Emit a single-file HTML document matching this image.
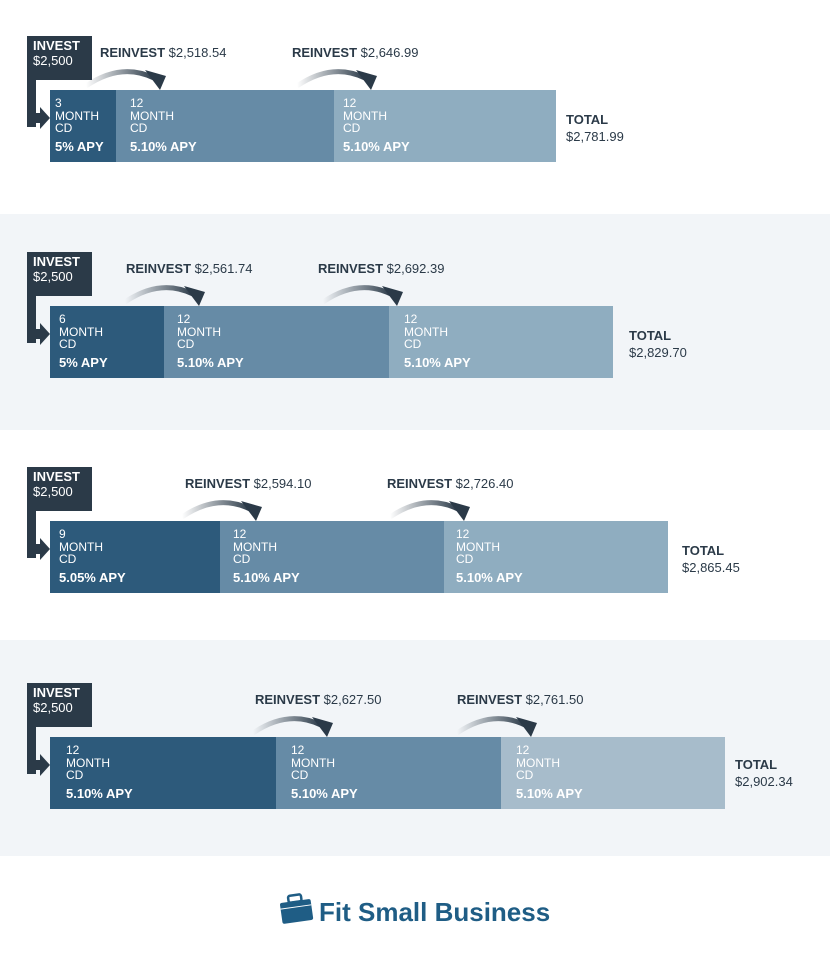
<!DOCTYPE html>
<html><head><meta charset="utf-8"><style>
body{margin:0;background:#fff}
svg{display:block}
text{font-family:"Liberation Sans",sans-serif}
.w{fill:#fff;font-size:12px}
.b{fill:#fff;font-size:13px;font-weight:bold}
.r{fill:#2b3a48;font-size:13px}
.rb{font-weight:bold}
</style></head><body>
<svg width="830" height="970" viewBox="0 0 830 970" xmlns="http://www.w3.org/2000/svg">
<defs>
<linearGradient id="g" x1="0" x2="1" y1="0" y2="0"><stop offset="0" stop-color="#2b3a48" stop-opacity="0"/><stop offset="1" stop-color="#2b3a48"/></linearGradient>
<g id="inv">
<rect x="27" y="36" width="65" height="44" fill="#2b3a48"/>
<rect x="27" y="78" width="9" height="49" fill="#2b3a48"/>
<rect x="27" y="113" width="16" height="10" fill="#2b3a48"/>
<polygon points="40,107 50,118 40,129" fill="#2b3a48"/>
</g>
<g id="arr">
<path d="M0,86 Q35,62 68,78" fill="none" stroke="url(#g)" stroke-width="5"/>
<polygon points="59,70 80,76 74,90" fill="#2b3a48"/>
</g>
</defs>
<rect x="0" y="214" width="830" height="216" fill="#f2f5f8"/>
<rect x="0" y="640" width="830" height="216" fill="#f2f5f8"/>

<!-- panel 1 -->
<g>
<use href="#inv"/>
<text class="b" x="33" y="50">INVEST</text><text class="w" x="33" y="65" style="font-size:13px">$2,500</text>
<use href="#arr" transform="translate(86,0)"/><use href="#arr" transform="translate(297,0)"/>
<text class="r" x="100" y="57"><tspan class="rb">REINVEST</tspan> $2,518.54</text>
<text class="r" x="292" y="57"><tspan class="rb">REINVEST</tspan> $2,646.99</text>
<rect x="50" y="90" width="66" height="72" fill="#2d5a7b"/>
<rect x="116" y="90" width="218" height="72" fill="#668ba6"/>
<rect x="334" y="90" width="222" height="72" fill="#8fadc0"/>
<text class="w" x="55" y="107">3</text><text class="w" x="55" y="120">MONTH</text><text class="w" x="55" y="132">CD</text><text class="b" x="55" y="151">5% APY</text>
<text class="w" x="130" y="107">12</text><text class="w" x="130" y="120">MONTH</text><text class="w" x="130" y="132">CD</text><text class="b" x="130" y="151">5.10% APY</text>
<text class="w" x="343" y="107">12</text><text class="w" x="343" y="120">MONTH</text><text class="w" x="343" y="132">CD</text><text class="b" x="343" y="151">5.10% APY</text>
<text class="r rb" x="566" y="124">TOTAL</text><text class="r" x="566" y="141">$2,781.99</text>
</g>

<!-- panel 2 -->
<g transform="translate(0,216)">
<use href="#inv"/>
<text class="b" x="33" y="50">INVEST</text><text class="w" x="33" y="65" style="font-size:13px">$2,500</text>
<use href="#arr" transform="translate(125,0)"/><use href="#arr" transform="translate(323,0)"/>
<text class="r" x="126" y="57"><tspan class="rb">REINVEST</tspan> $2,561.74</text>
<text class="r" x="318" y="57"><tspan class="rb">REINVEST</tspan> $2,692.39</text>
<rect x="50" y="90" width="114" height="72" fill="#2d5a7b"/>
<rect x="164" y="90" width="225" height="72" fill="#668ba6"/>
<rect x="389" y="90" width="224" height="72" fill="#8fadc0"/>
<text class="w" x="59" y="107">6</text><text class="w" x="59" y="120">MONTH</text><text class="w" x="59" y="132">CD</text><text class="b" x="59" y="151">5% APY</text>
<text class="w" x="177" y="107">12</text><text class="w" x="177" y="120">MONTH</text><text class="w" x="177" y="132">CD</text><text class="b" x="177" y="151">5.10% APY</text>
<text class="w" x="404" y="107">12</text><text class="w" x="404" y="120">MONTH</text><text class="w" x="404" y="132">CD</text><text class="b" x="404" y="151">5.10% APY</text>
<text class="r rb" x="629" y="124">TOTAL</text><text class="r" x="629" y="141">$2,829.70</text>
</g>

<!-- panel 3 -->
<g transform="translate(0,431)">
<use href="#inv"/>
<text class="b" x="33" y="50">INVEST</text><text class="w" x="33" y="65" style="font-size:13px">$2,500</text>
<use href="#arr" transform="translate(182,0)"/><use href="#arr" transform="translate(390,0)"/>
<text class="r" x="185" y="57"><tspan class="rb">REINVEST</tspan> $2,594.10</text>
<text class="r" x="387" y="57"><tspan class="rb">REINVEST</tspan> $2,726.40</text>
<rect x="50" y="90" width="170" height="72" fill="#2d5a7b"/>
<rect x="220" y="90" width="224" height="72" fill="#668ba6"/>
<rect x="444" y="90" width="224" height="72" fill="#8fadc0"/>
<text class="w" x="59" y="107">9</text><text class="w" x="59" y="120">MONTH</text><text class="w" x="59" y="132">CD</text><text class="b" x="59" y="151">5.05% APY</text>
<text class="w" x="233" y="107">12</text><text class="w" x="233" y="120">MONTH</text><text class="w" x="233" y="132">CD</text><text class="b" x="233" y="151">5.10% APY</text>
<text class="w" x="456" y="107">12</text><text class="w" x="456" y="120">MONTH</text><text class="w" x="456" y="132">CD</text><text class="b" x="456" y="151">5.10% APY</text>
<text class="r rb" x="682" y="124">TOTAL</text><text class="r" x="682" y="141">$2,865.45</text>
</g>

<!-- panel 4 -->
<g transform="translate(0,647)">
<use href="#inv"/>
<text class="b" x="33" y="50">INVEST</text><text class="w" x="33" y="65" style="font-size:13px">$2,500</text>
<use href="#arr" transform="translate(253,0)"/><use href="#arr" transform="translate(457,0)"/>
<text class="r" x="255" y="57"><tspan class="rb">REINVEST</tspan> $2,627.50</text>
<text class="r" x="457" y="57"><tspan class="rb">REINVEST</tspan> $2,761.50</text>
<rect x="50" y="90" width="226" height="72" fill="#2d5a7b"/>
<rect x="276" y="90" width="225" height="72" fill="#668ba6"/>
<rect x="501" y="90" width="224" height="72" fill="#a7bccb"/>
<text class="w" x="66" y="107">12</text><text class="w" x="66" y="120">MONTH</text><text class="w" x="66" y="132">CD</text><text class="b" x="66" y="151">5.10% APY</text>
<text class="w" x="291" y="107">12</text><text class="w" x="291" y="120">MONTH</text><text class="w" x="291" y="132">CD</text><text class="b" x="291" y="151">5.10% APY</text>
<text class="w" x="516" y="107">12</text><text class="w" x="516" y="120">MONTH</text><text class="w" x="516" y="132">CD</text><text class="b" x="516" y="151">5.10% APY</text>
<text class="r rb" x="735" y="122">TOTAL</text><text class="r" x="735" y="139">$2,902.34</text>
</g>

<!-- logo -->
<g transform="rotate(-8 296 911)">
<rect x="281" y="901" width="31" height="21" rx="2" fill="#1f5d85"/>
<rect x="290" y="895" width="13" height="7" rx="2" fill="none" stroke="#1f5d85" stroke-width="2.5"/>
<line x1="281" y1="907" x2="312" y2="907" stroke="#fff" stroke-width="1"/>
</g>
<text x="319" y="921" style="font-size:26px;font-weight:bold;fill:#1f5d85">Fit Small Business</text>
</svg>
</body></html>
